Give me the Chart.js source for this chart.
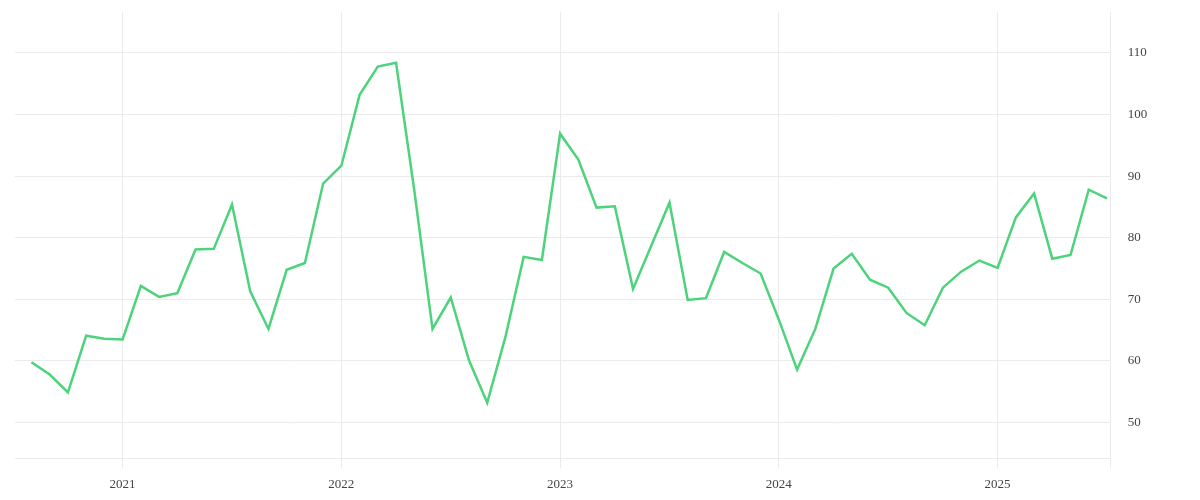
<!DOCTYPE html>
<html>
<head>
<meta charset="utf-8">
<title>Monthly index</title>
<script src="https://cdn.jsdelivr.net/npm/chart.js@4.4.1/dist/chart.umd.min.js"></script>
<style>
    html, body { margin: 0; padding: 0; background: #ffffff; }
    #chart-wrap { width: 1200px; height: 500px; position: relative; }
</style>
</head>
<body>
<div id="chart-wrap"><canvas id="main-chart"></canvas></div>
<script>
// Monthly observations, Aug 2020 - Jul 2025
const months = [
    '2020-08', '2020-09', '2020-10', '2020-11', '2020-12',
    '2021-01', '2021-02', '2021-03', '2021-04', '2021-05', '2021-06',
    '2021-07', '2021-08', '2021-09', '2021-10', '2021-11', '2021-12',
    '2022-01', '2022-02', '2022-03', '2022-04', '2022-05', '2022-06',
    '2022-07', '2022-08', '2022-09', '2022-10', '2022-11', '2022-12',
    '2023-01', '2023-02', '2023-03', '2023-04', '2023-05', '2023-06',
    '2023-07', '2023-08', '2023-09', '2023-10', '2023-11', '2023-12',
    '2024-01', '2024-02', '2024-03', '2024-04', '2024-05', '2024-06',
    '2024-07', '2024-08', '2024-09', '2024-10', '2024-11', '2024-12',
    '2025-01', '2025-02', '2025-03', '2025-04', '2025-05', '2025-06',
    '2025-07'
];

const values = [
    59.8, 57.8, 54.9, 64.1, 63.6,
    63.5, 72.2, 70.4, 71.0, 78.1, 78.2,
    85.4, 71.3, 65.2, 74.8, 75.9, 88.8,
    91.7, 103.2, 107.8, 108.4, 87.7, 65.2,
    70.3, 60.1, 53.2, 63.9, 76.9, 76.4,
    96.9, 92.7, 84.9, 85.1, 71.7, 78.7,
    85.7, 69.9, 70.2, 77.7, 75.9, 74.2,
    66.7, 58.6, 65.2, 75.0, 77.4, 73.2,
    71.9, 67.8, 65.8, 71.9, 74.5, 76.3,
    75.1, 83.3, 87.2, 76.6, 77.2, 87.8,
    86.4
];

// Axis ranges (years as decimal numbers, index values)
const xRange = [2020.508, 2025.517];
const yRange = [44.2, 116.6];
const yTickStep = 10;

let mainChart = null;

// "2021-03" -> 2021.1667
function monthToYear(label) {
    const parts = label.split('-');
    return Number(parts[0]) + (Number(parts[1]) - 1) / 12;
}

function initializeMainChart() {
    const ctx = document.getElementById('main-chart');
    if (!ctx) return;

    if (mainChart) {
        mainChart.destroy();
    }

    const points = months.map((m, i) => ({ x: monthToYear(m), y: values[i] }));
    const gridColor = '#ebebeb';
    const tickFont = { family: "'Liberation Serif', serif", size: 13 };

    mainChart = new Chart(ctx, {
        type: 'line',
        data: {
            datasets: [{
                data: points,
                borderColor: '#4cd37b',
                backgroundColor: 'transparent',
                borderWidth: 2.5,
                pointRadius: 0,
                tension: 0,
                fill: false
            }]
        },
        options: {
            responsive: true,
            maintainAspectRatio: false,
            animation: false,
            layout: {
                padding: { left: 15, top: 12.3, right: 0, bottom: 0 }
            },
            plugins: {
                legend: { display: false },
                tooltip: { enabled: false }
            },
            scales: {
                x: {
                    type: 'linear',
                    position: 'bottom',
                    min: xRange[0],
                    max: xRange[1],
                    afterFit: (scale) => { scale.height = 41.7; },
                    grid: {
                        color: (c) => (c.tick && c.tick.value === xRange[0]) ? 'rgba(0,0,0,0)' : gridColor,
                        drawTicks: true,
                        tickLength: 10
                    },
                    border: { display: true, color: gridColor },
                    ticks: {
                        stepSize: 1,
                        autoSkip: false,
                        maxRotation: 0,
                        padding: 8,
                        color: '#444444',
                        font: tickFont,
                        callback: (v) => Number.isInteger(v) ? String(v) : ''
                    }
                },
                y: {
                    type: 'linear',
                    position: 'right',
                    min: yRange[0],
                    max: yRange[1],
                    // fixed axis width, and no extra room above the top label
                    afterFit: (scale) => {
                        scale.width = 89.3;
                        scale.paddingTop = 0;
                        scale.paddingBottom = 0;
                    },
                    grid: {
                        color: gridColor,
                        drawTicks: false
                    },
                    border: { display: true, color: gridColor },
                    ticks: {
                        stepSize: yTickStep,
                        includeBounds: false,
                        padding: 17,
                        color: '#444444',
                        font: tickFont,
                        callback: (v) => String(v)
                    }
                }
            }
        }
    });
}

document.addEventListener('DOMContentLoaded', function() {
    if (typeof Chart === 'undefined') {
        console.error('Chart.js is not loaded');
        return;
    }
    initializeMainChart();
});
</script>
</body>
</html>
